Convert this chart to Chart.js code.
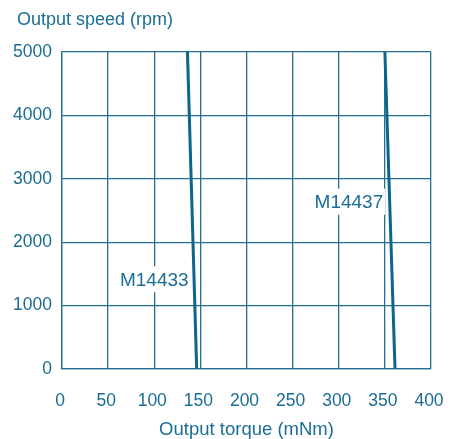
<!DOCTYPE html>
<html>
<head>
<meta charset="utf-8">
<script src="https://cdn.jsdelivr.net/npm/chart.js@4"></script>
<style>
  html, body { margin: 0; padding: 0; background: #ffffff; }
  #wrap { width: 459px; height: 439px; }
</style>
</head>
<body>
<div id="wrap"><canvas id="c" width="459" height="439"></canvas></div>
<script>
// ---- data ----
const seriesNames = ['M14433', 'M14437'];
const torqueM14433 = [136, 146];     // mNm
const speedM14433  = [5000, 0];      // rpm
const torqueM14437 = [350, 361];     // mNm
const speedM14437  = [5000, 0];      // rpm

const xAxisTitle = 'Output torque (mNm)';
const yAxisTitle = 'Output speed (rpm)';
const xMin = 0, xMax = 400, xStep = 50;
const yMin = 0, yMax = 5000, yStep = 1000;

// label anchor points (in data units)
const labelTorque = [100, 311];
const labelSpeed  = [1415, 2638];

// ---- styling ----
const TEXT = '#1a6d94';
const GRID = '#23708f';
const LINE = '#0a668a';
const FONT = 'Liberation Sans, Arial, Helvetica, sans-serif';

function toPoints(xs, ys) { return xs.map((x, i) => ({ x: x, y: ys[i] })); }

const curveLabels = {
  id: 'curveLabels',
  afterDatasetsDraw(chart) {
    const { ctx, scales } = chart;
    ctx.save();
    ctx.font = '19px ' + FONT;
    ctx.textAlign = 'center';
    ctx.textBaseline = 'middle';
    seriesNames.forEach((name, i) => {
      const px = scales.x.getPixelForValue(labelTorque[i]);
      const py = scales.y.getPixelForValue(labelSpeed[i]);
      const w = ctx.measureText(name).width;
      ctx.fillStyle = '#ffffff';
      ctx.fillRect(px - w / 2 - 2, py - 13, w + 4, 26);
      ctx.fillStyle = TEXT;
      ctx.fillText(name, px, py + 1);
    });
    ctx.restore();
  },
  afterDraw(chart) {
    // y-axis title, horizontal, above the plot at the left
    const { ctx, chartArea } = chart;
    ctx.save();
    ctx.font = '18px ' + FONT;
    ctx.fillStyle = TEXT;
    ctx.textAlign = 'left';
    ctx.textBaseline = 'middle';
    ctx.fillText(yAxisTitle, chartArea.left - 45, chartArea.top - 32);
    ctx.restore();
  }
};

new Chart(document.getElementById('c'), {
  type: 'scatter',
  data: {
    datasets: [
      { label: seriesNames[0], data: toPoints(torqueM14433, speedM14433) },
      { label: seriesNames[1], data: toPoints(torqueM14437, speedM14437) }
    ].map(d => Object.assign(d, {
      showLine: true, pointRadius: 0, borderColor: LINE, borderWidth: 3,
      backgroundColor: LINE, fill: false
    }))
  },
  options: {
    responsive: false,
    animation: false,
    devicePixelRatio: 1,
    layout: { padding: { left: 0, right: 28, top: 52, bottom: 0 } },
    plugins: {
      legend: { display: false },
      tooltip: { enabled: false },
      title: { display: false }
    },
    scales: {
      x: {
        type: 'linear', min: xMin, max: xMax,
        afterFit(s) { s.height = 70; s.paddingLeft = 0; s.paddingRight = 0; },
        ticks: { stepSize: xStep, color: TEXT, padding: 22, labelOffset: -2,
                 font: { family: FONT, size: 17.5 }, maxRotation: 0 },
        grid: { color: GRID, lineWidth: 1.3, drawTicks: false },
        border: { color: GRID, width: 1.3 },
        title: { display: true, text: xAxisTitle, color: TEXT,
                 font: { family: FONT, size: 18.5 }, padding: { top: 0, bottom: -2 } }
      },
      y: {
        type: 'linear', min: yMin, max: yMax,
        afterFit(s) { s.width = 62; s.paddingTop = 0; s.paddingBottom = 0; },
        ticks: { stepSize: yStep, color: TEXT, padding: 10,
                 font: { family: FONT, size: 17.5 },
                 callback: v => String(v) },
        grid: { color: GRID, lineWidth: 1.3, drawTicks: false },
        border: { color: GRID, width: 1.3 }
      }
    }
  },
  plugins: [curveLabels]
});
</script>
</body>
</html>
